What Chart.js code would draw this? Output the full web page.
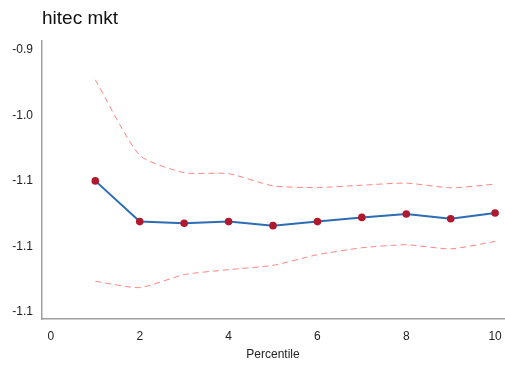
<!DOCTYPE html>
<html>
<head>
<meta charset="utf-8">
<script src="https://cdn.jsdelivr.net/npm/chart.js@4"></script>
<style>
html,body{margin:0;padding:0;background:#fff;}
#wrap{width:505px;height:367px;position:relative;}
</style>
</head>
<body>
<div id="wrap"><canvas id="c" width="505" height="367"></canvas></div>
<script>
const titleText = 'hitec mkt';
const xTitle = 'Percentile';
const percentiles = [1, 2, 3, 4, 5, 6, 7, 8, 9, 10];
const estimate = [-1.0500, -1.0811, -1.0824, -1.0811, -1.0842, -1.0811, -1.0779, -1.0753, -1.0789, -1.0745];
const upperCI = [-0.9728, -1.0305, -1.0437, -1.0445, -1.0538, -1.0551, -1.0533, -1.0517, -1.0553, -1.0525];
const lowerCI = [-1.1267, -1.1315, -1.1216, -1.1178, -1.1145, -1.1064, -1.1011, -1.0988, -1.1019, -1.0963];
const yTickValues = [-0.95, -1.00, -1.05, -1.10, -1.15];
const yTickLabels = ['-0.9', '-1.0', '-1.1', '-1.1', '-1.1'];
const xTickValues = [0, 2, 4, 6, 8, 10];

const toXY = arr => arr.map((v, i) => ({x: percentiles[i], y: v}));
const font = "'Liberation Sans', Arial, sans-serif";

new Chart(document.getElementById('c'), {
  type: 'line',
  data: {
    datasets: [
      {data: toXY(upperCI), borderColor: 'rgba(255,100,100,0.8)', borderWidth: 1, borderDash: [6, 4], pointRadius: 0, tension: 0.2, fill: false},
      {data: toXY(lowerCI), borderColor: 'rgba(255,100,100,0.8)', borderWidth: 1, borderDash: [6, 4], pointRadius: 0, tension: 0.2, fill: false},
      {data: toXY(estimate), borderColor: '#2c6db3', borderWidth: 2, pointRadius: 3.8, pointBackgroundColor: '#b0182e', pointBorderColor: '#b0182e', pointBorderWidth: 0, tension: 0, fill: false}
    ]
  },
  options: {
    responsive: false,
    animation: false,
    layout: {autoPadding: false, padding: {left: 0, right: 1, top: 0, bottom: 0}},
    plugins: {
      legend: {display: false},
      tooltip: {enabled: false},
      title: {display: true, fullSize: false, text: titleText, align: 'start', color: '#111', font: {family: font, size: 19, weight: 'normal'}, padding: {top: 7, bottom: 11}}
    },
    scales: {
      x: {
        type: 'linear', min: -0.2, max: 10.2,
        afterBuildTicks: s => { s.ticks = xTickValues.map(v => ({value: v})); },
        afterFit: s => { s.height = 48; s.paddingRight = 0; s.paddingLeft = 0; },
        grid: {display: false, drawTicks: false},
        border: {color: '#a0a0a0', width: 1.5},
        ticks: {color: '#222', font: {family: font, size: 12}, padding: 10, maxRotation: 0},
        title: {display: true, text: xTitle, color: '#222', font: {family: font, size: 12}, padding: {top: 2, bottom: 5}}
      },
      y: {
        type: 'linear', min: -1.1555, max: -0.943,
        afterBuildTicks: s => { s.ticks = yTickValues.map(v => ({value: v})); },
        afterFit: s => { s.width = 42; s.paddingTop = 0; s.paddingBottom = 0; },
        grid: {display: false, drawTicks: false},
        border: {color: '#a0a0a0', width: 1.5},
        ticks: {color: '#222', font: {family: font, size: 12}, padding: 9,
          callback: (v) => { const i = yTickValues.findIndex(t => Math.abs(t - v) < 1e-9); return i >= 0 ? yTickLabels[i] : ''; }}
      }
    }
  }
});
</script>
</body>
</html>
